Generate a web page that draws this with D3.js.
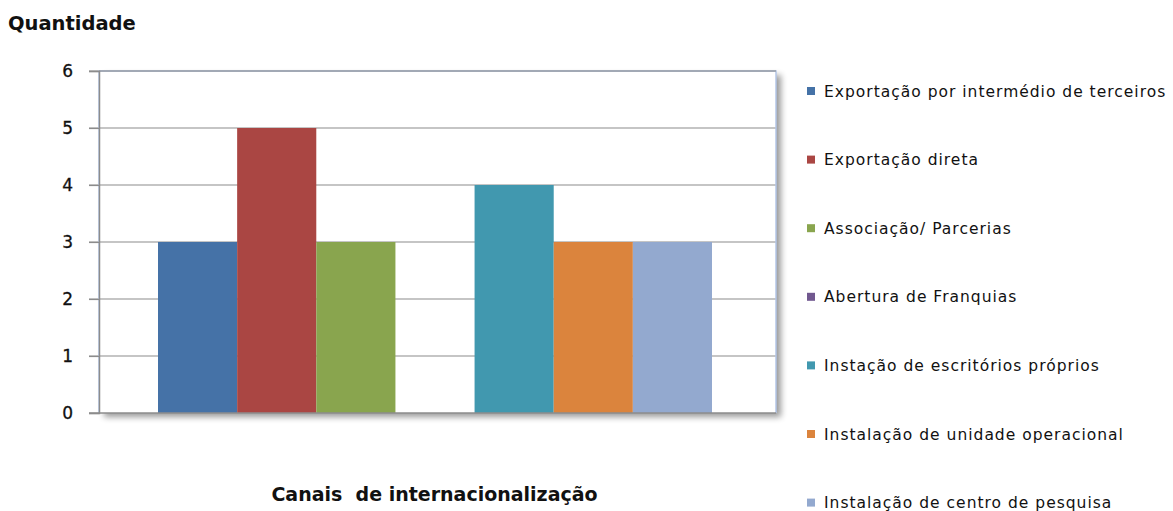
<!DOCTYPE html>
<html>
<head>
<meta charset="utf-8">
<script src="https://cdn.jsdelivr.net/npm/d3@7"></script>
<style>
  html, body { margin: 0; padding: 0; background: #fff; }
  svg { display: block; }
</style>
</head>
<body>
<svg id="chart" width="1173" height="511"></svg>
<script>
// Internationalisation channels (one category, seven series)
const seriesNames = [
  "Exportação por intermédio de terceiros",
  "Exportação direta",
  "Associação/ Parcerias",
  "Abertura de Franquias",
  "Instação de escritórios próprios",
  "Instalação de unidade operacional",
  "Instalação de centro de pesquisa"
];
const seriesValues = [3, 5, 3, 0, 4, 3, 3];
const seriesColors = ["#4572a7", "#aa4643", "#89a54e", "#71588f", "#4198af", "#db843d", "#93a9cf"];
const yTicks = [0, 1, 2, 3, 4, 5, 6];

const svg = d3.select("#chart");
const plot = { left: 99, top: 71, right: 776, bottom: 413 };
const W = plot.right - plot.left, H = plot.bottom - plot.top;

const y = d3.scaleLinear().domain([0, 6]).range([plot.bottom, plot.top]);
// bars sit inside the plot with a gap on each side
const x = d3.scaleBand().domain(seriesNames).range([plot.left + 59, plot.right - 64])
  .paddingInner(0).paddingOuter(0);

// drop shadow for the plot frame
const defs = svg.append("defs");
const f = defs.append("filter").attr("id", "shadow").attr("x", "-5%").attr("y", "-5%").attr("width", "112%").attr("height", "115%");
f.append("feGaussianBlur").attr("in", "SourceAlpha").attr("stdDeviation", 3).attr("result", "b");
f.append("feOffset").attr("in", "b").attr("dx", 5).attr("dy", 4).attr("result", "o");
f.append("feComponentTransfer").attr("in", "o").attr("result", "s")
  .append("feFuncA").attr("type", "linear").attr("slope", 0.4);
const m = f.append("feMerge");
m.append("feMergeNode").attr("in", "s");
m.append("feMergeNode").attr("in", "SourceGraphic");

svg.append("rect")
  .attr("x", plot.left).attr("y", plot.top).attr("width", W).attr("height", H)
  .attr("fill", "#fff").attr("filter", "url(#shadow)");

// gridlines
svg.append("g").selectAll("line").data(yTicks.filter(d => d > 0)).join("line")
  .attr("x1", plot.left - 10).attr("x2", plot.right)
  .attr("y1", d => y(d)).attr("y2", d => y(d))
  .attr("stroke", "#8c8c8c").attr("stroke-width", 1.2);

// bars
svg.append("g").selectAll("rect").data(seriesNames).join("rect")
  .attr("x", d => x(d)).attr("width", x.bandwidth())
  .attr("y", (d, i) => y(seriesValues[i]))
  .attr("height", (d, i) => y(0) - y(seriesValues[i]))
  .attr("fill", (d, i) => seriesColors[i]);

// plot frame (light blue) on top, left, right
svg.append("path")
  .attr("d", `M${plot.left},${plot.bottom}V${plot.top}H${plot.right}V${plot.bottom}`)
  .attr("fill", "none").attr("stroke", "#b4c6e7").attr("stroke-width", 1.5);
svg.append("line")
  .attr("x1", plot.left).attr("x2", plot.right).attr("y1", plot.top).attr("y2", plot.top)
  .attr("stroke", "#8c8c8c").attr("stroke-width", 1);

// y axis
const yAxis = svg.append("g").attr("transform", `translate(${plot.left},0)`)
  .call(d3.axisLeft(y).tickValues(yTicks).tickFormat(d3.format("d")).tickSize(10).tickPadding(16));
yAxis.select(".domain").attr("stroke", "#8c8c8c").attr("stroke-width", 1.5);
yAxis.selectAll(".tick line").attr("stroke", "#8c8c8c").attr("stroke-width", 1.2);
yAxis.selectAll(".tick text").attr("fill", "#111").attr("font-family", "'DejaVu Sans', sans-serif")
  .attr("font-size", 17).attr("stroke", "#111").attr("stroke-width", 0.3);

// x baseline
svg.append("line")
  .attr("x1", plot.left - 10).attr("x2", plot.right).attr("y1", plot.bottom).attr("y2", plot.bottom)
  .attr("stroke", "#8c8c8c").attr("stroke-width", 1.5);

// titles
svg.append("text").attr("x", 8).attr("y", 30).text("Quantidade")
  .attr("font-family", "'DejaVu Sans', sans-serif").attr("font-weight", "bold")
  .attr("font-size", 19.5).attr("fill", "#111");
svg.append("text").attr("x", 434.5).attr("y", 501).attr("text-anchor", "middle")
  .text("Canais  de internacionalização")
  .attr("font-family", "'DejaVu Sans', sans-serif").attr("font-weight", "bold")
  .attr("font-size", 19).attr("fill", "#111").style("white-space", "pre");

// legend
const legend = svg.append("g").selectAll("g").data(seriesNames).join("g")
  .attr("transform", (d, i) => `translate(807, ${91 + i * 68.6})`);
legend.append("rect").attr("x", 0).attr("y", -4).attr("width", 8).attr("height", 8)
  .attr("fill", (d, i) => seriesColors[i]);
legend.append("text").attr("x", 17).attr("y", 5.5).text(d => d)
  .attr("font-family", "'DejaVu Sans', sans-serif").attr("font-size", 15.5)
  .attr("letter-spacing", 1.0).attr("fill", "#111");
</script>
</body>
</html>
